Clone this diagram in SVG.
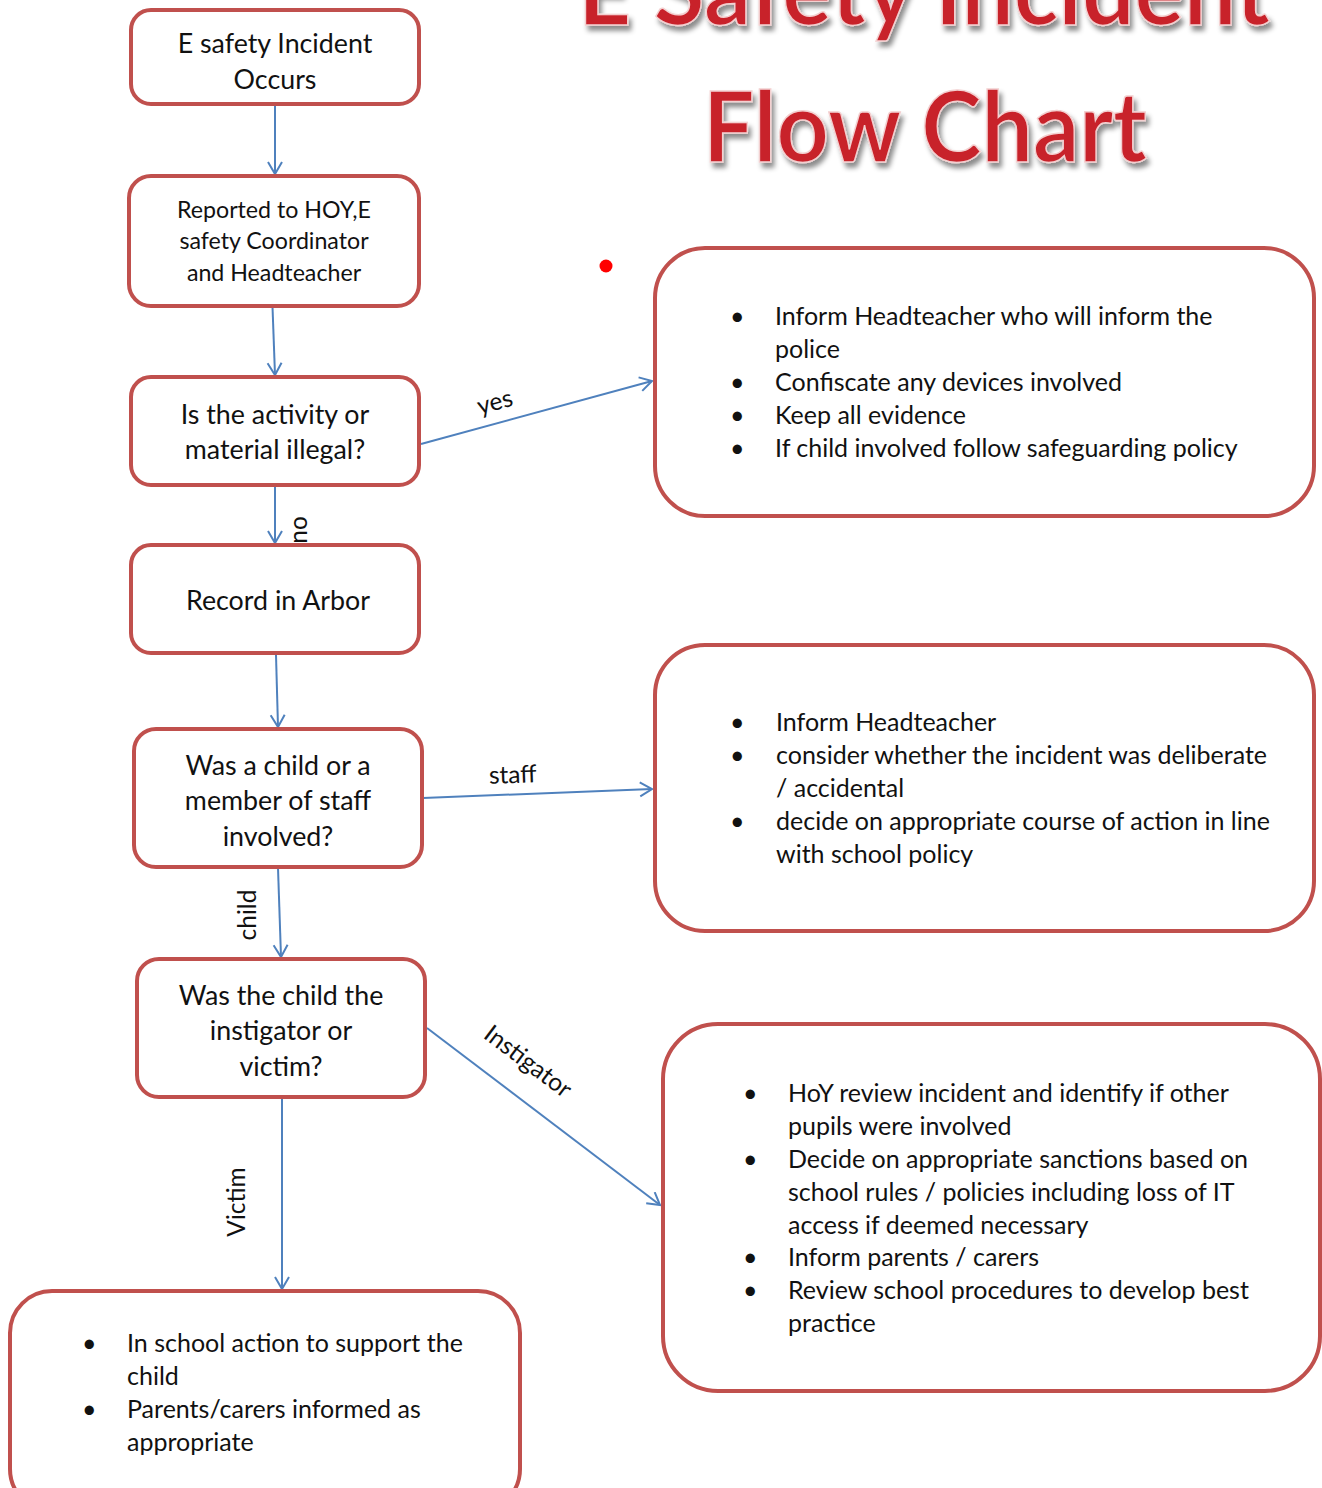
<svg xmlns="http://www.w3.org/2000/svg" width="1322" height="1488" viewBox="0 0 1322 1488">
<defs>
<style>
.box{fill:#fff;stroke:#c0504d;stroke-width:4}
.t{font-family:Lato,"Open Sans","Liberation Sans",sans-serif;fill:#111;font-size:26.8px}
.sm{font-size:23.2px}
.c{text-anchor:middle}
.l{font-family:Lato,"Open Sans","Liberation Sans",sans-serif;fill:#111;font-size:24.5px;text-anchor:middle}
.b{font-family:Lato,"Open Sans","Liberation Sans",sans-serif;fill:#111;font-size:25px}
.edge{stroke:#4f81bd;stroke-width:2;fill:none;marker-end:url(#ah)}
.title{font-family:Lato,"Open Sans","Liberation Sans",sans-serif;font-weight:bold;fill:#c8202a;stroke:#f3d0d0;stroke-width:1.5;text-anchor:middle;filter:url(#sh)}
</style>
<marker id="ah" markerWidth="20" markerHeight="20" refX="13" refY="8" orient="auto" markerUnits="userSpaceOnUse">
<path d="M1,1 L13,8 L1,15" fill="none" stroke="#4f81bd" stroke-width="2"/>
</marker>
<filter id="sh" x="-10%" y="-20%" width="120%" height="150%">
<feDropShadow dx="3" dy="5" stdDeviation="2.5" flood-color="#000" flood-opacity="0.45"/>
</filter>
</defs>

<g id="title">
<text class="title" x="924" y="25" font-size="98" textLength="692" lengthAdjust="spacingAndGlyphs">E Safety Incident</text>
<text class="title" x="925" y="162" font-size="98" textLength="444" lengthAdjust="spacingAndGlyphs">Flow Chart</text>
</g>
<circle id="dot" cx="606" cy="266" r="6.5" fill="#ff0000"/>

<g id="connectors">
<line class="edge" x1="275" y1="105" x2="275" y2="174"/>
<line class="edge" x1="272" y1="293" x2="275" y2="375"/>
<line class="edge" x1="421" y1="444" x2="652" y2="381"/>
<line class="edge" x1="275" y1="486" x2="275" y2="543"/>
<line class="edge" x1="276" y1="655" x2="278" y2="727"/>
<line class="edge" x1="423" y1="798" x2="652" y2="789"/>
<line class="edge" x1="278" y1="868" x2="281" y2="957"/>
<line class="edge" x1="427" y1="1028" x2="660" y2="1205"/>
<line class="edge" x1="282" y1="1098" x2="282" y2="1289"/>
<text class="l" transform="translate(497,410) rotate(-15)">yes</text>
<text class="l" transform="translate(307,530) rotate(-90)">no</text>
<text class="l" transform="translate(513,783) rotate(-2)">staff</text>
<text class="l" transform="translate(256,915) rotate(-90)">child</text>
<text class="l" transform="translate(523,1068) rotate(37)">Instigator</text>
<text class="l" transform="translate(245,1202) rotate(-90)">Victim</text>
</g>

<g id="n1">
<rect class="box" x="131" y="10" width="288" height="94" rx="20"/>
<text class="t c" x="275" y="53">E safety Incident</text>
<text class="t c" x="275" y="89">Occurs</text>
</g>
<g id="n2">
<rect class="box" x="129" y="176" width="290" height="130" rx="22"/>
<text class="t c sm" x="274" y="218">Reported to HOY,E</text>
<text class="t c sm" x="274" y="249">safety Coordinator</text>
<text class="t c sm" x="274" y="281">and Headteacher</text>
</g>
<g id="n3">
<rect class="box" x="131" y="377" width="288" height="108" rx="20"/>
<text class="t c" x="275" y="424">Is the activity or</text>
<text class="t c" x="275" y="459">material illegal?</text>
</g>
<g id="n4">
<rect class="box" x="131" y="545" width="288" height="108" rx="20"/>
<text class="t c" x="278" y="610">Record in Arbor</text>
</g>
<g id="n5">
<rect class="box" x="134" y="729" width="288" height="138" rx="22"/>
<text class="t c" x="278" y="775">Was a child or a</text>
<text class="t c" x="278" y="810">member of staff</text>
<text class="t c" x="278" y="846">involved?</text>
</g>
<g id="n6">
<rect class="box" x="137" y="959" width="288" height="138" rx="22"/>
<text class="t c" x="281" y="1005">Was the child the</text>
<text class="t c" x="281" y="1040">instigator or</text>
<text class="t c" x="281" y="1076">victim?</text>
</g>

<g id="r1">
<rect class="box" x="655" y="248" width="659" height="268" rx="50"/>
<text class="b" x="730" y="325">•</text><text class="b" x="775" y="325">Inform Headteacher who will inform the</text>
<text class="b" x="775" y="358">police</text>
<text class="b" x="730" y="391">•</text><text class="b" x="775" y="391">Confiscate any devices involved</text>
<text class="b" x="730" y="424">•</text><text class="b" x="775" y="424">Keep all evidence</text>
<text class="b" x="730" y="457">•</text><text class="b" x="775" y="457">If child involved follow safeguarding policy</text>
</g>
<g id="r2">
<rect class="box" x="655" y="645" width="659" height="286" rx="50"/>
<text class="b" x="730" y="731">•</text><text class="b" x="776" y="731">Inform Headteacher</text>
<text class="b" x="730" y="764">•</text><text class="b" x="776" y="764">consider whether the incident was deliberate</text>
<text class="b" x="776" y="797">/ accidental</text>
<text class="b" x="730" y="830">•</text><text class="b" x="776" y="830">decide on appropriate course of action in line</text>
<text class="b" x="776" y="863">with school policy</text>
</g>
<g id="r3">
<rect class="box" x="663" y="1024" width="657" height="367" rx="55"/>
<text class="b" x="743" y="1102">•</text><text class="b" x="788" y="1102">HoY review incident and identify if other</text>
<text class="b" x="788" y="1135">pupils were involved</text>
<text class="b" x="743" y="1168">•</text><text class="b" x="788" y="1168">Decide on appropriate sanctions based on</text>
<text class="b" x="788" y="1201">school rules / policies including loss of IT</text>
<text class="b" x="788" y="1234">access if deemed necessary</text>
<text class="b" x="743" y="1266">•</text><text class="b" x="788" y="1266">Inform parents / carers</text>
<text class="b" x="743" y="1299">•</text><text class="b" x="788" y="1299">Review school procedures to develop best</text>
<text class="b" x="788" y="1332">practice</text>
</g>
<g id="r4">
<rect class="box" x="10" y="1291" width="510" height="220" rx="42"/>
<text class="b" x="82" y="1352">•</text><text class="b" x="127" y="1352">In school action to support the</text>
<text class="b" x="127" y="1385">child</text>
<text class="b" x="82" y="1418">•</text><text class="b" x="127" y="1418">Parents/carers informed as</text>
<text class="b" x="127" y="1451">appropriate</text>
</g>
</svg>
